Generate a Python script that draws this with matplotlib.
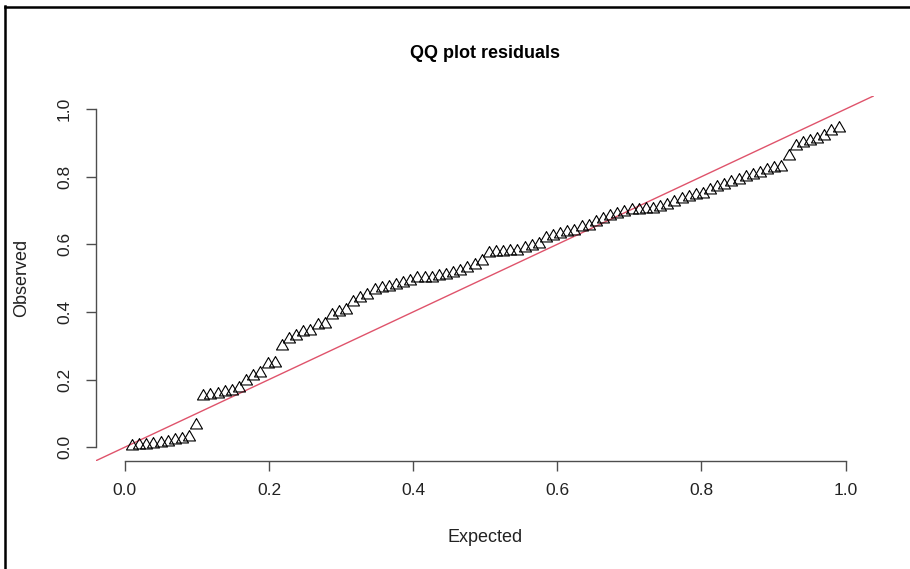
import matplotlib
matplotlib.use("Agg")
import matplotlib.pyplot as plt
from matplotlib.lines import Line2D

# ---- data ----
expected = [
    0.0099, 0.0198, 0.0297, 0.0396, 0.0495, 0.0594, 0.0693, 0.0792, 0.0891, 0.0990,
    0.1089, 0.1188, 0.1287, 0.1386, 0.1485, 0.1584, 0.1683, 0.1782, 0.1881, 0.1980,
    0.2079, 0.2178, 0.2277, 0.2376, 0.2475, 0.2574, 0.2673, 0.2772, 0.2871, 0.2970,
    0.3069, 0.3168, 0.3267, 0.3366, 0.3465, 0.3564, 0.3663, 0.3762, 0.3861, 0.3960,
    0.4059, 0.4158, 0.4257, 0.4356, 0.4455, 0.4554, 0.4653, 0.4752, 0.4851, 0.4950,
    0.5050, 0.5149, 0.5248, 0.5347, 0.5446, 0.5545, 0.5644, 0.5743, 0.5842, 0.5941,
    0.6040, 0.6139, 0.6238, 0.6337, 0.6436, 0.6535, 0.6634, 0.6733, 0.6832, 0.6931,
    0.7030, 0.7129, 0.7228, 0.7327, 0.7426, 0.7525, 0.7624, 0.7723, 0.7822, 0.7921,
    0.8020, 0.8119, 0.8218, 0.8317, 0.8416, 0.8515, 0.8614, 0.8713, 0.8812, 0.8911,
    0.9010, 0.9109, 0.9208, 0.9307, 0.9406, 0.9505, 0.9604, 0.9703, 0.9802, 0.9901,
]
observed = [
    0.003, 0.005, 0.006, 0.008, 0.012, 0.016, 0.020, 0.025, 0.030, 0.065,
    0.150, 0.155, 0.158, 0.162, 0.165, 0.175, 0.195, 0.210, 0.220, 0.245,
    0.250, 0.300, 0.320, 0.330, 0.340, 0.345, 0.360, 0.365, 0.390, 0.400,
    0.405, 0.430, 0.440, 0.450, 0.465, 0.470, 0.475, 0.480, 0.485, 0.490,
    0.500, 0.500, 0.500, 0.505, 0.510, 0.515, 0.520, 0.530, 0.540, 0.550,
    0.575, 0.578, 0.578, 0.580, 0.580, 0.590, 0.595, 0.600, 0.620, 0.625,
    0.630, 0.635, 0.640, 0.650, 0.655, 0.665, 0.675, 0.685, 0.690, 0.695,
    0.700, 0.700, 0.705, 0.705, 0.710, 0.715, 0.725, 0.735, 0.740, 0.745,
    0.750, 0.760, 0.770, 0.775, 0.785, 0.790, 0.800, 0.805, 0.810, 0.820,
    0.825, 0.830, 0.860, 0.890, 0.900, 0.905, 0.910, 0.920, 0.935, 0.945,
]
xticks = [0.0, 0.2, 0.4, 0.6, 0.8, 1.0]
yticks = [0.0, 0.2, 0.4, 0.6, 0.8, 1.0]
tick_labels = ["0.0", "0.2", "0.4", "0.6", "0.8", "1.0"]

plt.rcParams['font.family'] = ['Liberation Sans', 'DejaVu Sans']

W, H = 910, 569
fig = plt.figure(figsize=(W / 100, H / 100), dpi=100)
fig.patch.set_facecolor("white")

left, right, bottom, top = 96, 874.5, 460.7, 95.5
ax = fig.add_axes([left / W, 1 - bottom / H, (right - left) / W, (bottom - top) / H])
ax.set_xlim(-0.04, 1.04)
ax.set_ylim(-0.04, 1.04)

# R pch=2 style open triangle (equilateral, centred on its centroid)
tri = [(0, 1.555), (1.347, -0.778), (-1.347, -0.778), (0, 1.555)]
ax.plot(expected, observed, linestyle="none", marker=tri, markersize=10,
        markerfacecolor="none", markeredgecolor="black", markeredgewidth=0.8,
        zorder=3)

ax.axline((0, 0), slope=1, color="#DF536B", linewidth=1.0, zorder=2)

axis_col = "#4d4d4d"
for s in ["top", "right"]:
    ax.spines[s].set_visible(False)
for s in ["left", "bottom"]:
    ax.spines[s].set_color(axis_col)
    ax.spines[s].set_linewidth(1.0)
ax.spines["left"].set_bounds(0, 1)
ax.spines["bottom"].set_bounds(0, 1)

ax.set_xticks(xticks)
ax.set_xticklabels(tick_labels)
ax.set_yticks(yticks)
ax.set_yticklabels(tick_labels, rotation=90, va="center")
ax.tick_params(axis="both", length=7.2, width=1.0, color=axis_col,
               labelsize=12.5, labelcolor="#222222")
ax.tick_params(axis="x", pad=9)
ax.tick_params(axis="y", pad=10)

fig.text(485.5 / W, 1 - 53 / H, "QQ plot residuals", ha="center", va="center",
         fontsize=13, fontweight="bold", color="black")
fig.text(485.5 / W, 1 - 538 / H, "Expected", ha="center", va="center",
         fontsize=13, color="#222222")
fig.text(22 / W, 1 - 278 / H, "Observed", ha="center", va="center",
         rotation=90, fontsize=13, color="#222222")

# screenshot border (top and left)
fig.add_artist(Line2D([5.3 / W, 5.3 / W], [0, 1 - 6 / H], transform=fig.transFigure,
                      color="black", linewidth=1.8))
fig.add_artist(Line2D([4.5 / W, 1], [1 - 6.8 / H, 1 - 6.8 / H], transform=fig.transFigure,
                      color="black", linewidth=1.8))

fig.savefig("out.png", dpi=100, facecolor="white")
